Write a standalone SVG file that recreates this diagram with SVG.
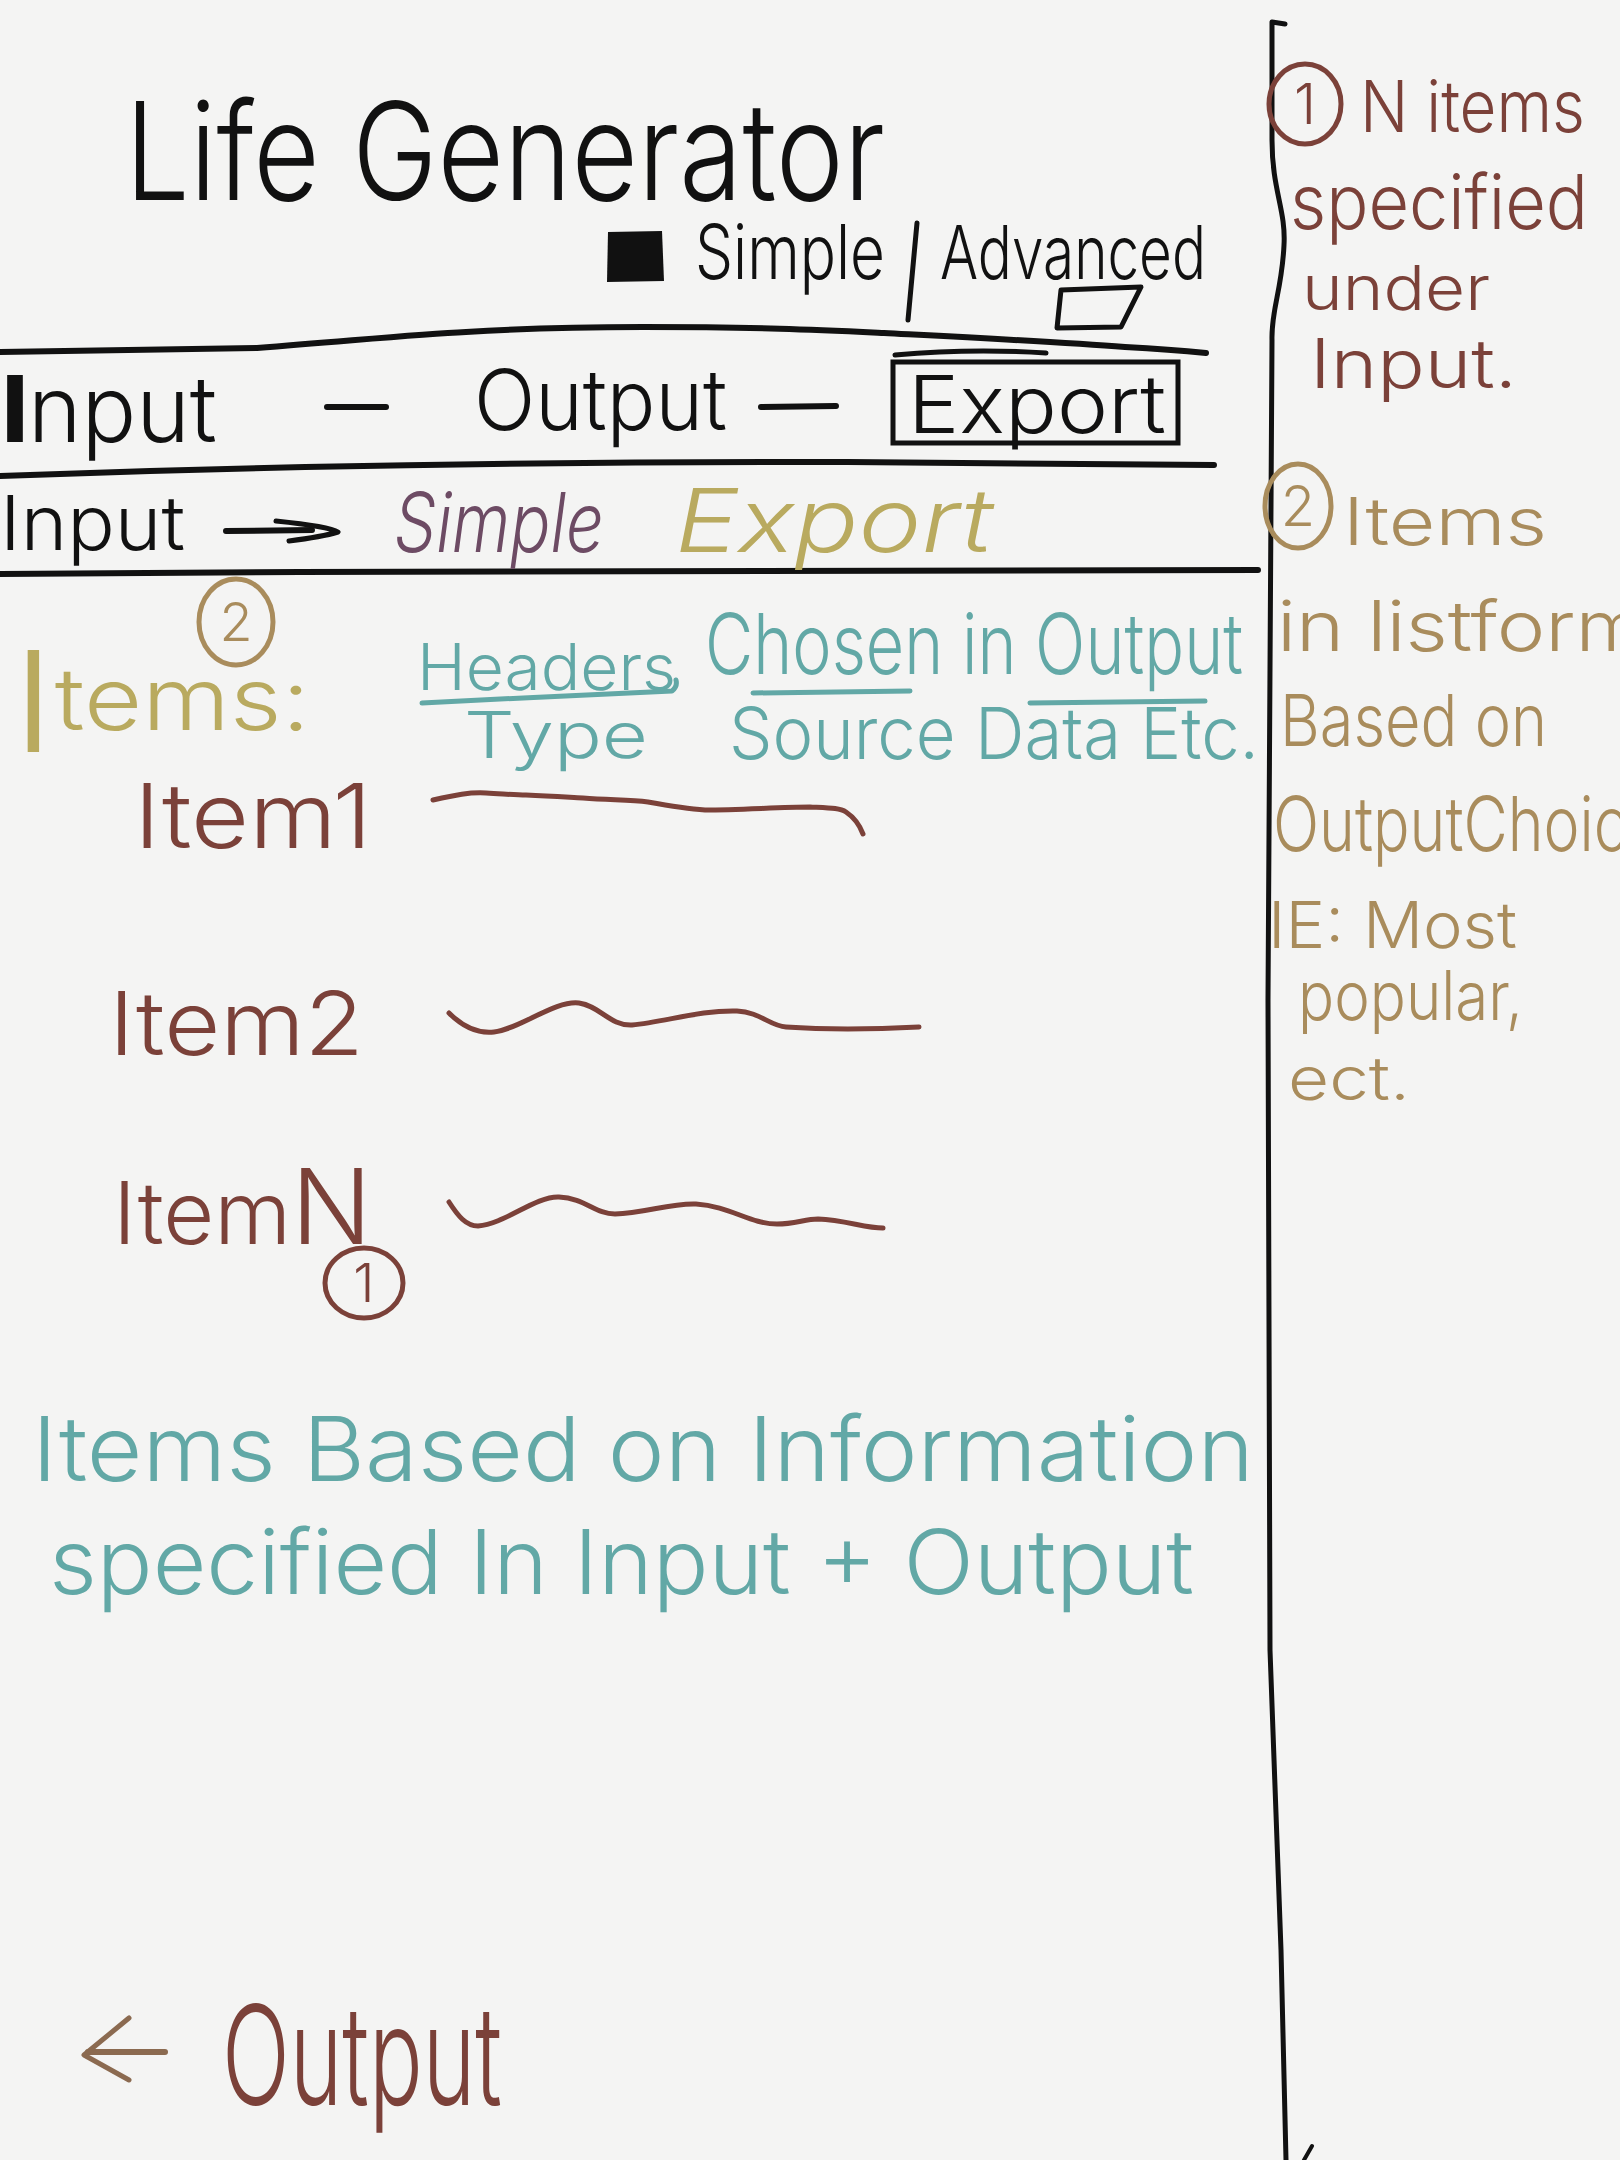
<svg xmlns="http://www.w3.org/2000/svg" width="1620" height="2160" viewBox="0 0 1620 2160">
<style>
.hw{font-family:Inter,"Liberation Sans",Arial,sans-serif;font-weight:300}
.k{fill:#111}
.br{fill:#7b4139}
.tan{fill:#a98c5c}
.ol{fill:#b9aa5f}
.tl{fill:#62a8a6}
.pu{fill:#6d4b64}
.ln{fill:none;stroke-linecap:round;stroke-linejoin:round}
.sk{stroke:#111}
.sbr{stroke:#7b4139}
.stan{stroke:#a98c5c}
.stl{stroke:#62a8a6}
</style>
<rect width="1620" height="2160" fill="#f4f4f3"/>

<g id="title">
<text class="hw k" x="125" y="200" font-size="136" textLength="760" lengthAdjust="spacingAndGlyphs">Life Generator</text>
</g>

<g id="mode-toggle">
<path class="k" d="M608,232 L662,231 L664,281 L607,282 Z"/>
<text class="hw k" x="695" y="279" font-size="76" textLength="190" lengthAdjust="spacingAndGlyphs">Simple</text>
<path class="ln sk" stroke-width="5" d="M917,223 L908,320"/>
<text class="hw k" x="940" y="279" font-size="74" textLength="266" lengthAdjust="spacingAndGlyphs">Advanced</text>
<path class="ln sk" stroke-width="5" d="M1061,290 L1141,287 L1121,327 L1057,328 Z"/>
</g>

<g id="rules">
<path class="ln sk" stroke-width="6" d="M0,352 L257,348 C360,340 420,334 466,332 C530,328 600,327 643,327 C760,327 820,330 884,333 C980,338 1060,342 1125,347 C1160,349 1185,351 1206,353"/>
<path class="ln sk" stroke-width="6" d="M0,476 L150,471 L305,467 C500,463 700,462 804,462 C950,462 1100,463 1214,465"/>
<path class="ln sk" stroke-width="6" d="M0,574 L300,572 C700,570 1000,570 1258,570"/>
<path class="ln sk" stroke-width="5" d="M1285,24 L1272,22 L1272,140 C1272,190 1286,210 1284,245 C1282,290 1271,310 1272,340 L1268,1000 L1270,1650 L1281,1950 L1286,2160"/>
<path class="ln sk" stroke-width="4" d="M1304,2160 L1312,2146"/>
</g>

<g id="nav-input">
<text class="hw k" x="2" y="442" font-size="92" textLength="215" lengthAdjust="spacingAndGlyphs"><tspan font-weight="800">I</tspan>nput</text>
</g>
<g id="nav-output">
<text class="hw k" x="474" y="430" font-size="84" textLength="253" lengthAdjust="spacingAndGlyphs">Output</text>
</g>
<g id="nav-export">
<rect x="893" y="362" width="285" height="81" fill="none" stroke="#111" stroke-width="5"/>
<path class="ln sk" stroke-width="5" d="M895,355 C950,350 1000,350 1046,353"/>
<text class="hw k" x="908" y="433" font-size="80" textLength="258" lengthAdjust="spacingAndGlyphs">Export</text>
</g>

<g id="breadcrumb">
<text class="hw k" x="0" y="550" font-size="76" textLength="185" lengthAdjust="spacingAndGlyphs">Input</text>
<text class="hw pu" x="394" y="552" font-size="82" font-style="italic" textLength="210" lengthAdjust="spacingAndGlyphs">Simple</text>
<text class="hw ol" x="675" y="552" font-size="88" font-style="italic" textLength="318" lengthAdjust="spacingAndGlyphs">Export</text>
</g>

<g id="connectors">
<path class="ln sk" stroke-width="6" d="M226,531 L312,530"/>
<path class="ln sk" stroke-width="5" d="M276,521 C305,524 330,527 338,532 C325,536 305,539 289,541"/>
<path class="ln sk" stroke-width="6" d="M327,407 L386,407"/>
<path class="ln sk" stroke-width="6" d="M761,407 L836,406"/>
<path class="ln" stroke="#8b6a50" stroke-width="6" d="M165,2052 L88,2052"/>
<path class="ln" stroke="#8b6a50" stroke-width="5" d="M129,2018 L84,2055 L129,2080"/>
</g>

<g id="items-heading">
<text class="hw ol" x="12" y="752" textLength="298" lengthAdjust="spacingAndGlyphs"><tspan font-size="140">I</tspan><tspan font-size="86" dy="-22">tems:</tspan></text>
<ellipse class="ln stan" stroke-width="5" cx="236" cy="622" rx="37" ry="43"/>
<text class="hw tan" x="236" y="641" font-size="54" text-anchor="middle">2</text>
</g>

<g id="headers">
<text class="hw tl" x="417" y="690" font-size="64" textLength="259" lengthAdjust="spacingAndGlyphs">Headers</text>
<path class="ln stl" stroke-width="5" d="M422,703 C500,699 600,694 672,691 C676,688 677,684 676,680"/>
<text class="hw tl" x="464" y="758" font-size="64" textLength="184" lengthAdjust="spacingAndGlyphs">Type</text>
<text class="hw tl" x="705" y="674" font-size="84" textLength="538" lengthAdjust="spacingAndGlyphs">Chosen in Output</text>
<path class="ln stl" stroke-width="5" d="M753,693 L910,691"/>
<path class="ln stl" stroke-width="5" d="M1030,703 L1205,701"/>
<text class="hw tl" x="729" y="759" font-size="72" textLength="530" lengthAdjust="spacingAndGlyphs">Source Data Etc.</text>
</g>

<g id="item-1">
<text class="hw br" x="134" y="848" font-size="90" textLength="238" lengthAdjust="spacingAndGlyphs">Item1</text>
<path class="ln sbr" stroke-width="5" d="M433,800 C455,795 470,792 486,793 C505,794 515,795 526,795 C550,796 565,797 583,798 C610,800 630,800 648,802 C670,806 690,809 705,810 C740,810 780,807 810,807 C830,808 840,808 846,812 C855,818 860,826 863,834"/>
</g>

<g id="item-2">
<text class="hw br" x="109" y="1055" font-size="88" textLength="255" lengthAdjust="spacingAndGlyphs">Item2</text>
<path class="ln sbr" stroke-width="5" d="M449,1013 C462,1026 476,1034 494,1032 C520,1029 555,1000 579,1003 C600,1006 610,1026 632,1025 C665,1022 700,1010 737,1011 C760,1012 770,1026 786,1027 C830,1030 880,1029 919,1027"/>
</g>

<g id="item-n">
<text class="hw br" x="113" y="1244" textLength="259" lengthAdjust="spacingAndGlyphs"><tspan font-size="86">Item</tspan><tspan font-size="104">N</tspan></text>
<ellipse class="ln sbr" stroke-width="5" cx="364" cy="1283" rx="39" ry="35"/>
<text class="hw br" x="364" y="1302" font-size="54" text-anchor="middle">1</text>
<path class="ln sbr" stroke-width="5" d="M449,1202 C458,1216 466,1226 478,1226 C505,1224 535,1196 559,1197 C585,1198 595,1214 615,1214 C645,1213 670,1203 696,1204 C730,1206 750,1224 777,1224 C795,1224 805,1219 818,1219 C845,1220 865,1228 883,1228"/>
</g>

<g id="items-note">
<text class="hw tl" x="32" y="1481" font-size="90" textLength="1222" lengthAdjust="spacingAndGlyphs">Items Based on Information</text>
<text class="hw tl" x="49" y="1594" font-size="90" textLength="1145" lengthAdjust="spacingAndGlyphs">specified In Input + Output</text>
</g>

<g id="back-output">
<text class="hw br" x="222" y="2105" font-size="138" textLength="280" lengthAdjust="spacingAndGlyphs">Output</text>
</g>

<g id="note-1">
<ellipse class="ln sbr" stroke-width="5" cx="1305" cy="104" rx="36" ry="40"/>
<text class="hw br" x="1305" y="124" font-size="56" text-anchor="middle">1</text>
<text class="hw br" x="1360" y="132" font-size="72" textLength="225" lengthAdjust="spacingAndGlyphs">N items</text>
<text class="hw br" x="1290" y="229" font-size="76" textLength="298" lengthAdjust="spacingAndGlyphs">specified</text>
<text class="hw br" x="1302" y="310" font-size="62" textLength="188" lengthAdjust="spacingAndGlyphs">under</text>
<text class="hw br" x="1310" y="388" font-size="68" textLength="207" lengthAdjust="spacingAndGlyphs">Input.</text>
</g>

<g id="note-2">
<ellipse class="ln stan" stroke-width="5" cx="1298" cy="506" rx="33" ry="42"/>
<text class="hw tan" x="1298" y="526" font-size="56" text-anchor="middle">2</text>
<text class="hw tan" x="1343" y="545" font-size="66" textLength="204" lengthAdjust="spacingAndGlyphs">Items</text>
<text class="hw tan" x="1277" y="651" font-size="70" textLength="370" lengthAdjust="spacingAndGlyphs">in listform</text>
<text class="hw tan" x="1280" y="746" font-size="72" textLength="267" lengthAdjust="spacingAndGlyphs">Based on</text>
<text class="hw tan" x="1273" y="851" font-size="76" textLength="390" lengthAdjust="spacingAndGlyphs">OutputChoice</text>
<text class="hw tan" x="1268" y="948" font-size="64" textLength="249" lengthAdjust="spacingAndGlyphs">IE: Most</text>
<text class="hw tan" x="1298" y="1020" font-size="68" textLength="225" lengthAdjust="spacingAndGlyphs">popular,</text>
<text class="hw tan" x="1288" y="1100" font-size="60" textLength="122" lengthAdjust="spacingAndGlyphs">ect.</text>
</g>
</svg>
